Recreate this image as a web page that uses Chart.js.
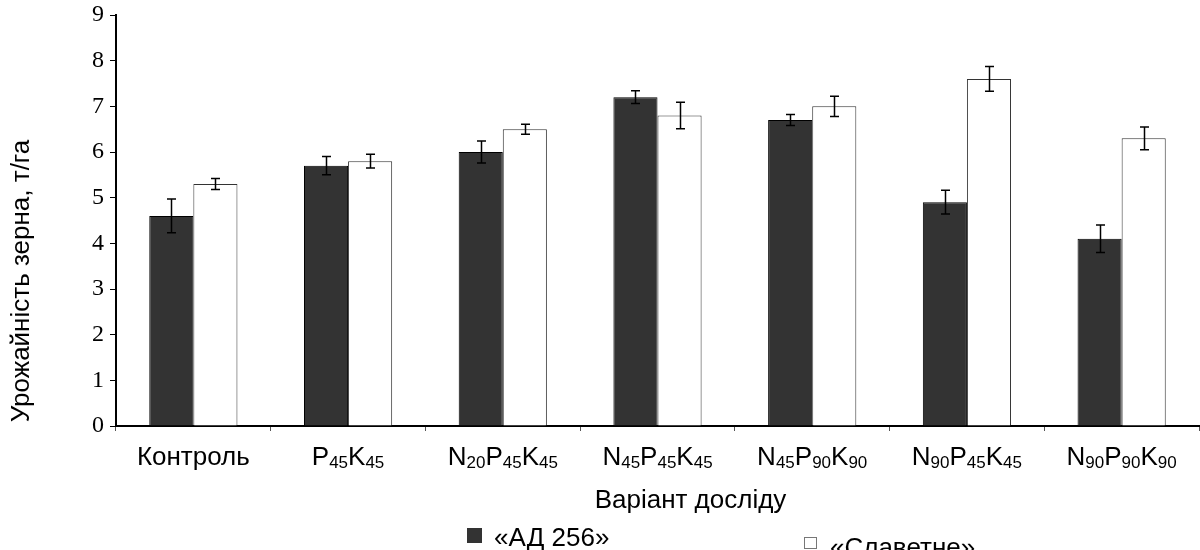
<!DOCTYPE html>
<html>
<head>
<meta charset="utf-8">
<script src="https://cdn.jsdelivr.net/npm/chart.js@4/dist/chart.umd.min.js"></script>
<style>
  html, body { margin: 0; padding: 0; background: #fff; }
  #wrap { width: 1200px; height: 550px; }
</style>
</head>
<body>
<div id="wrap"><canvas id="c" width="1200" height="550"></canvas></div>
<script>
const categories = ['Контроль', 'P45K45', 'N20P45K45', 'N45P45K45', 'N45P90K90', 'N90P45K45', 'N90P90K90'];
const seriesNames = ['«АД 256»', '«Славетне»'];
const valuesAD = [4.6, 5.7, 6.0, 7.2, 6.7, 4.9, 4.1];
const errorsAD = [0.37, 0.20, 0.24, 0.14, 0.12, 0.26, 0.30];
const valuesSl = [5.3, 5.8, 6.5, 6.8, 7.0, 7.6, 6.3];
const errorsSl = [0.12, 0.15, 0.11, 0.29, 0.22, 0.27, 0.25];
const yTicks = [0, 1, 2, 3, 4, 5, 6, 7, 8, 9];
const xTitle = 'Варіант досліду';
const yTitle = 'Урожайність зерна, т/га';

const SANS = '"Liberation Sans", Arial, sans-serif';
const SERIF = '"Liberation Serif", "Times New Roman", serif';

function drawFormula(ctx, text, cx, baseline) {
  const segs = [];
  let cur = '', curSub = null;
  for (const ch of text) {
    const sub = /[0-9]/.test(ch);
    if (curSub === null || sub === curSub) { cur += ch; curSub = sub; }
    else { segs.push({t: cur, sub: curSub}); cur = ch; curSub = sub; }
  }
  if (cur) segs.push({t: cur, sub: curSub});
  const mainF = '26px ' + SANS, subF = '17px ' + SANS;
  let total = 0;
  for (const s of segs) { ctx.font = s.sub ? subF : mainF; s.w = ctx.measureText(s.t).width; total += s.w; }
  let x = cx - total / 2;
  ctx.textAlign = 'left';
  ctx.textBaseline = 'alphabetic';
  for (const s of segs) {
    ctx.font = s.sub ? subF : mainF;
    ctx.fillText(s.t, x, baseline + (s.sub ? 3 : 0));
    x += s.w;
  }
}

const extras = {
  id: 'extras',
  afterDatasetsDraw(chart) {
    const ctx = chart.ctx;
    const ys = chart.scales.y;
    const errs = [errorsAD, errorsSl];
    ctx.save();
    ctx.strokeStyle = '#000';
    ctx.lineWidth = 1.5;
    chart.data.datasets.forEach((ds, di) => {
      const meta = chart.getDatasetMeta(di);
      meta.data.forEach((bar, i) => {
        const v = ds.data[i], e = errs[di][i];
        const x = Math.round(bar.x) + 0.5;
        const yT = ys.getPixelForValue(v + e), yB = ys.getPixelForValue(v - e);
        ctx.beginPath();
        ctx.moveTo(x, yT); ctx.lineTo(x, yB);
        ctx.moveTo(x - 4.5, yT); ctx.lineTo(x + 4.5, yT);
        ctx.moveTo(x - 4.5, yB); ctx.lineTo(x + 4.5, yB);
        ctx.stroke();
      });
    });
    ctx.restore();
  },
  afterDraw(chart) {
    const ctx = chart.ctx;
    const xs = chart.scales.x;
    const area = chart.chartArea;
    ctx.save();
    ctx.fillStyle = '#000';
    categories.forEach((c, i) => {
      drawFormula(ctx, c, xs.getPixelForValue(i), 465);
    });
    ctx.font = '26px ' + SANS;
    ctx.textAlign = 'center';
    ctx.textBaseline = 'alphabetic';
    ctx.fillText(xTitle, (area.left + area.right) / 2 + 33, 508);
    ctx.save();
    ctx.translate(22, 281);
    ctx.rotate(-Math.PI / 2);
    ctx.textBaseline = 'middle';
    ctx.fillText(yTitle, 0, 0);
    ctx.restore();
    const ds = chart.data.datasets;
    ctx.fillStyle = ds[0].backgroundColor;
    ctx.fillRect(467, 528, 15, 15);
    ctx.fillStyle = '#000';
    ctx.textAlign = 'left';
    ctx.textBaseline = 'alphabetic';
    ctx.fillText(ds[0].label, 494, 546);
    ctx.fillStyle = '#fff';
    ctx.fillRect(804.5, 537.5, 12, 11);
    ctx.strokeStyle = '#777';
    ctx.lineWidth = 1;
    ctx.strokeRect(804.5, 537.5, 12, 11);
    ctx.fillStyle = '#000';
    ctx.fillText(ds[1].label, 830, 556);
    ctx.restore();
  }
};

new Chart(document.getElementById('c'), {
  type: 'bar',
  data: {
    labels: categories,
    datasets: [
      { label: seriesNames[0], data: valuesAD, backgroundColor: '#333333', borderColor: '#000', borderWidth: 1,
        categoryPercentage: 0.57, barPercentage: 1.0 },
      { label: seriesNames[1], data: valuesSl, backgroundColor: '#ffffff', borderColor: '#333', borderWidth: 1,
        categoryPercentage: 0.57, barPercentage: 1.0 }
    ]
  },
  options: {
    responsive: false,
    animation: false,
    devicePixelRatio: 1,
    layout: { padding: { top: 15, right: 1, left: 0, bottom: 0 } },
    plugins: { legend: { display: false }, tooltip: { enabled: false }, title: { display: false } },
    scales: {
      x: {
        afterFit(s) { s.height = 124; },
        border: { color: '#000', width: 2 },
        grid: { drawOnChartArea: false, drawTicks: true, tickLength: 5, color: '#555', offset: true },
        ticks: { callback: () => '' }
      },
      y: {
        min: 0, max: 9,
        afterFit(s) { s.width = 116; s.paddingTop = 0; },
        afterBuildTicks(s) { s.ticks = yTicks.map(v => ({ value: v })); },
        border: { color: '#000', width: 2 },
        grid: { drawOnChartArea: false, drawTicks: true, tickLength: 6, color: '#000' },
        ticks: { padding: 6, color: '#000', font: { family: SERIF, size: 24 } }
      }
    }
  },
  plugins: [extras]
});
</script>
</body>
</html>
